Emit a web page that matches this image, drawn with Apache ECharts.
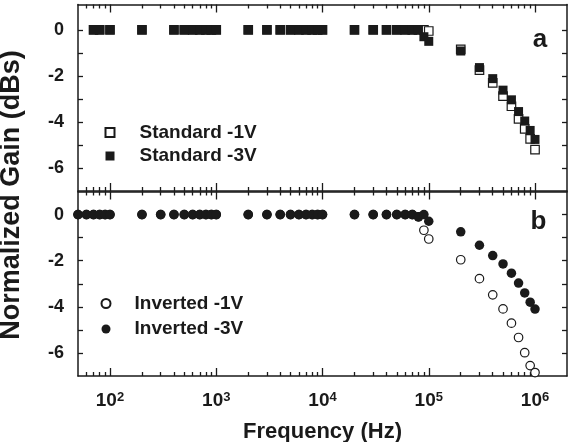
<!DOCTYPE html>
<html><head><meta charset="utf-8">
<script src="https://cdn.jsdelivr.net/npm/echarts@6/dist/echarts.min.js"></script>
<style>html,body{margin:0;padding:0;background:#fff}#c{width:578px;height:442px}</style>
</head><body><div id="c"></div>
<script>
// ---- data (frequency in Hz, gain in dB) ----
const topFreq = [70,80,100,200,400,500,600,700,800,900,1000,2000,3000,4000,5000,6000,7000,8000,9000,10000,
  20000,30000,40000,50000,60000,70000,80000,90000,100000,200000,300000,400000,500000,600000,700000,800000,900000,1000000];
const standard1V = [0,0,0,0,0,0,0,0,0,0,0,0,0,0,0,0,0,0,0,0,
  0,0,0,0,0,0,0,0,-0.05,-0.85,-1.75,-2.3,-2.88,-3.32,-3.87,-4.3,-4.74,-5.2];
const standard3V = [0,0,0,0,0,0,0,0,0,0,0,0,0,0,0,0,0,0,0,0,
  0,0,0,0,0,0,0,-0.3,-0.5,-0.92,-1.64,-2.12,-2.62,-3.04,-3.55,-3.96,-4.37,-4.76];
const botFreq = [50,60,70,80,90,100,200,300,400,500,600,700,800,900,1000,2000,3000,4000,5000,6000,7000,8000,9000,10000,
  20000,30000,40000,50000,60000,70000,80000,90000,100000,200000,300000,400000,500000,600000,700000,800000,900000,1000000];
const inverted1V = [0,0,0,0,0,0,0,0,0,0,0,0,0,0,0,0,0,0,0,0,0,0,0,0,
  0,0,0,0,0,0,-0.1,-0.68,-1.06,-1.96,-2.78,-3.48,-4.09,-4.71,-5.33,-5.99,-6.55,-6.85];
const inverted3V = [0,0,0,0,0,0,0,0,0,0,0,0,0,0,0,0,0,0,0,0,0,0,0,0,
  0,0,0,0,0,0,-0.1,0,-0.29,-0.75,-1.33,-1.78,-2.14,-2.54,-2.97,-3.4,-3.8,-4.1];
const xMajorTicks = [100,1000,10000,100000,1000000];
const xMinorTicks = [60,70,80,90,200,300,400,500,600,700,800,900,2000,3000,4000,5000,6000,7000,8000,9000,
  20000,30000,40000,50000,60000,70000,80000,90000,200000,300000,400000,500000,600000,700000,800000,900000];
const yTicks = [0,-1,-2,-3,-4,-5,-6];
const yLabels = [0,-2,-4,-6];
const seriesNames = ['Standard -1V','Standard -3V','Inverted -1V','Inverted -3V'];

const INK = '#1a1a1a';
const FONT = 'Liberation Sans, Arial, sans-serif';
const zip = (xs, ys) => xs.map((x, i) => [x, ys[i]]);

function xa(gi, pos, vals, len, extra) {
  return Object.assign({
    type: 'log', logBase: 10, gridIndex: gi, position: pos, min: 50, max: 2000000,
    axisLine: { show: true, onZero: false, lineStyle: { color: INK, width: 1.5 } },
    axisTick: { show: true, inside: true, length: len, customValues: vals, lineStyle: { color: INK, width: 1.3 } },
    axisLabel: { show: false },
    splitLine: { show: false }, minorTick: { show: false }, minorSplitLine: { show: false }
  }, extra || {});
}
function ya(gi, pos, max, labels) {
  return {
    type: 'value', gridIndex: gi, position: pos, min: -7, max: max,
    axisLine: { show: true, onZero: false, lineStyle: { color: INK, width: 1.5 } },
    axisTick: { show: true, inside: true, length: 5, customValues: yTicks, lineStyle: { color: INK, width: 1.3 } },
    axisLabel: labels ? { show: true, customValues: yLabels, margin: 14, color: INK,
      fontFamily: FONT, fontWeight: 'bold', fontSize: 18 } : { show: false },
    splitLine: { show: false }
  };
}

const labelAxis = xa(1, 'bottom', xMajorTicks, 8, {
  name: 'Frequency (Hz)', nameLocation: 'middle', nameGap: 45,
  nameTextStyle: { color: INK, fontFamily: FONT, fontWeight: 'bold', fontSize: 22 },
  axisLabel: {
    show: true, customValues: xMajorTicks, margin: 15,
    formatter: v => '{b|10}{s|' + Math.round(Math.log10(v)) + '}',
    rich: {
      b: { fontFamily: FONT, fontWeight: 'bold', fontSize: 19, lineHeight: 20, color: INK },
      s: { fontFamily: FONT, fontWeight: 'bold', fontSize: 13, lineHeight: 6, verticalAlign: 'top', color: INK }
    }
  }
});

const legendText = (pad) => ({
  color: INK, fontFamily: FONT, fontWeight: 'bold', fontSize: 19,
  rich: { t: { color: INK, fontFamily: FONT, fontWeight: 'bold', fontSize: 19, lineHeight: 20, padding: [0, 0, 0, pad] } }
});

const option = {
  animation: false,
  backgroundColor: '#fff',
  grid: [
    { left: 78, right: 11, top: 4.5, height: 186.5, outerBoundsMode: 'none' },
    { left: 78, right: 11, top: 191.5, height: 184.5, outerBoundsMode: 'none' }
  ],
  xAxis: [
    xa(0, 'bottom', xMajorTicks, 8), xa(0, 'bottom', xMinorTicks, 4, { axisLine: { show: false, onZero: false } }),
    xa(0, 'top', xMajorTicks, 8), xa(0, 'top', xMinorTicks, 4, { axisLine: { show: false, onZero: false } }),
    labelAxis, xa(1, 'bottom', xMinorTicks, 4, { axisLine: { show: false, onZero: false } }),
    xa(1, 'top', xMajorTicks, 8), xa(1, 'top', xMinorTicks, 4, { axisLine: { show: false, onZero: false } })
  ],
  yAxis: [ ya(0, 'left', 1.1, true), ya(0, 'right', 1.1, false), ya(1, 'left', 1, true), ya(1, 'right', 1, false) ],
  legend: [
    { data: seriesNames.slice(0, 2), orient: 'vertical', left: 104.5, top: 123, padding: 0, itemWidth: 9, itemHeight: 9, itemGap: 4.5,
      formatter: n => '{t|' + n + '}', textStyle: legendText(20), selectedMode: false },
    { data: seriesNames.slice(2, 4), orient: 'vertical', left: 100.5, top: 294, padding: 0, itemWidth: 9, itemHeight: 9, itemGap: 6.5,
      formatter: n => '{t|' + n + '}', textStyle: legendText(19), selectedMode: false }
  ],
  graphic: [
    { type: 'text', x: 12, y: 195, rotation: Math.PI / 2,
      style: { text: 'Normalized Gain (dBs)', fill: INK, font: 'bold 27px ' + FONT, align: 'center', verticalAlign: 'middle' } },
    { type: 'text', x: 540, y: 40,
      style: { text: 'a', fill: INK, font: 'bold 26px ' + FONT, align: 'center', verticalAlign: 'middle' } },
    { type: 'text', x: 538.5, y: 222,
      style: { text: 'b', fill: INK, font: 'bold 26px ' + FONT, align: 'center', verticalAlign: 'middle' } }
  ],
  series: [
    { name: seriesNames[0], type: 'scatter', xAxisIndex: 0, yAxisIndex: 0, symbol: 'rect', symbolSize: 8.5,
      itemStyle: { color: '#fff', borderColor: INK, borderWidth: 1.2, opacity: 1 }, data: zip(topFreq, standard1V) },
    { name: seriesNames[1], type: 'scatter', xAxisIndex: 0, yAxisIndex: 0, symbol: 'rect', symbolSize: 9,
      itemStyle: { color: INK, opacity: 1 }, data: zip(topFreq, standard3V) },
    { name: seriesNames[2], type: 'scatter', xAxisIndex: 4, yAxisIndex: 2, symbol: 'circle', symbolSize: 8.5,
      itemStyle: { color: '#fff', borderColor: INK, borderWidth: 1.2, opacity: 1 }, data: zip(botFreq, inverted1V) },
    { name: seriesNames[3], type: 'scatter', xAxisIndex: 4, yAxisIndex: 2, symbol: 'circle', symbolSize: 9.5,
      itemStyle: { color: INK, opacity: 1 }, data: zip(botFreq, inverted3V) }
  ]
};
const chart = echarts.init(document.getElementById('c'), null, { renderer: 'canvas' });
chart.setOption(option);
</script></body></html>
